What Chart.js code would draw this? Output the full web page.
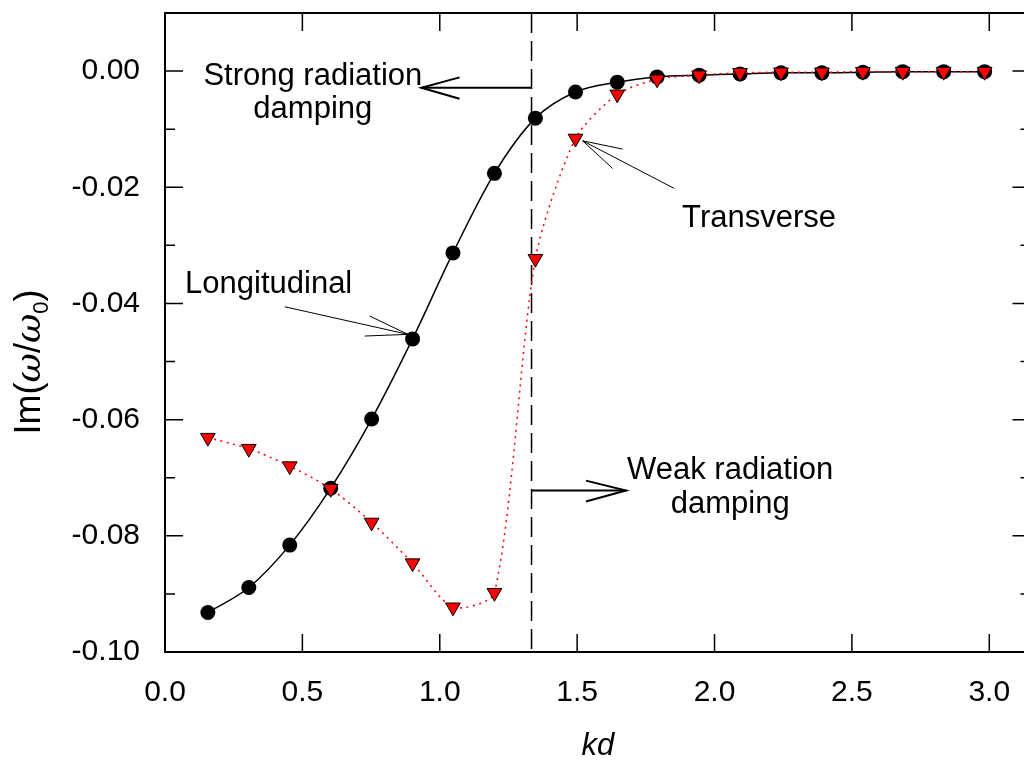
<!DOCTYPE html>
<html><head><meta charset="utf-8">
<script src="https://cdn.jsdelivr.net/npm/chart.js@4.4.1/dist/chart.umd.min.js"></script>
<style>html,body{margin:0;padding:0;background:#fff;overflow:hidden;width:1024px;height:761px}canvas{display:block}</style>
</head><body>
<canvas id="c" width="1040" height="761" style="width:1040px;height:761px"></canvas>
<script>
// ---- data ----
const kd = [0.156, 0.305, 0.454, 0.603, 0.752, 0.901, 1.048, 1.199, 1.348, 1.494,
            1.646, 1.791, 1.944, 2.093, 2.242, 2.391, 2.540, 2.685, 2.834, 2.983];
const longitudinal = [-0.0932, -0.0889, -0.0816, -0.0718, -0.0599, -0.0461, -0.0313, -0.0176, -0.0081, -0.0036,
                      -0.0019, -0.0010, -0.0007, -0.0005, -0.0003, -0.0003, -0.0002, -0.0001, -0.0001, -0.0001];
const transverse = [-0.0631, -0.0650, -0.0680, -0.0719, -0.0777, -0.0847, -0.0923, -0.0898, -0.0323, -0.0116,
                    -0.0040, -0.0014, -0.0007, -0.0003, -0.0002, -0.0002, -0.0001, -0.0001, -0.0001, -0.0001];
const xTicks = [0.0, 0.5, 1.0, 1.5, 2.0, 2.5, 3.0];
const yTicks = [-0.10, -0.08, -0.06, -0.04, -0.02, 0.00];
const yMinorTicks = [-0.09, -0.07, -0.05, -0.03, -0.01];
const boundaryKd = 1.334;

// annotations (data coordinates)
const noteTexts = [
  {text: 'Strong radiation', x: 0.538, y: -0.0024, align: 'center'},
  {text: 'damping', x: 0.538, y: -0.0081, align: 'center'},
  {text: 'Weak radiation', x: 2.057, y: -0.0703, align: 'center'},
  {text: 'damping', x: 2.057, y: -0.0760, align: 'center'},
  {text: 'Longitudinal', x: 0.073, y: -0.0382, align: 'left'},
  {text: 'Transverse', x: 1.882, y: -0.0268, align: 'left'}
];
const notePaths = [
  {w: 2, pts: [[1.334, -0.00287], [0.933, -0.00287]]},
  {w: 2, pts: [[1.072, -0.00108], [0.933, -0.00287], [1.072, -0.00477]]},
  {w: 2, pts: [[1.334, -0.0722], [1.678, -0.0722]]},
  {w: 2, pts: [[1.532, -0.0705], [1.678, -0.0722], [1.532, -0.0741]]},
  {w: 1, pts: [[0.436, -0.04057], [0.884, -0.04532]]},
  {w: 1, pts: [[0.745, -0.04217], [0.884, -0.04532], [0.727, -0.04561]]},
  {w: 1, pts: [[1.853, -0.02019], [1.520, -0.0120]]},
  {w: 1, pts: [[1.665, -0.01342], [1.520, -0.0120], [1.629, -0.01675]]}
];

const FONT = "'Liberation Sans', Arial, sans-serif";

const deco = {
  id: 'deco',
  beforeDatasetsDraw(chart) {
    const {ctx, chartArea: a, scales: {x}} = chart;
    const bx = x.getPixelForValue(boundaryKd);
    ctx.save();
    ctx.strokeStyle = '#000'; ctx.lineWidth = 1.5; ctx.setLineDash([20, 8]);
    ctx.beginPath(); ctx.moveTo(bx, a.top); ctx.lineTo(bx, a.bottom); ctx.stroke();
    ctx.restore();
  },
  afterDatasetsDraw(chart) {
    const {ctx, chartArea: a, scales: {x, y}} = chart;
    ctx.save();
    ctx.strokeStyle = '#000';
    // frame
    ctx.lineWidth = 2;
    ctx.strokeRect(a.left, a.top, a.right - a.left, a.bottom - a.top);
    // ticks
    ctx.lineWidth = 1.5;
    ctx.beginPath();
    xTicks.forEach(v => {
      const px = x.getPixelForValue(v);
      ctx.moveTo(px, a.bottom); ctx.lineTo(px, a.bottom - 18);
      ctx.moveTo(px, a.top); ctx.lineTo(px, a.top + 18);
    });
    yTicks.forEach(v => {
      const py = y.getPixelForValue(v);
      ctx.moveTo(a.left, py); ctx.lineTo(a.left + 18, py);
      ctx.moveTo(a.right, py); ctx.lineTo(a.right - 18, py);
    });
    yMinorTicks.forEach(v => {
      const py = y.getPixelForValue(v);
      ctx.moveTo(a.left, py); ctx.lineTo(a.left + 10, py);
      ctx.moveTo(a.right, py); ctx.lineTo(a.right - 10, py);
    });
    ctx.stroke();
    // annotation lines
    notePaths.forEach(p => {
      ctx.lineWidth = p.w;
      ctx.beginPath();
      p.pts.forEach((q, i) => {
        const px = x.getPixelForValue(q[0]), py = y.getPixelForValue(q[1]);
        if (i === 0) ctx.moveTo(px, py); else ctx.lineTo(px, py);
      });
      ctx.stroke();
    });
    // annotation texts
    ctx.fillStyle = '#000';
    ctx.font = '31px ' + FONT;
    ctx.textBaseline = 'alphabetic';
    noteTexts.forEach(t => {
      ctx.textAlign = t.align;
      ctx.fillText(t.text, x.getPixelForValue(t.x), y.getPixelForValue(t.y));
    });
    // x title
    ctx.font = 'italic 31px ' + FONT;
    ctx.textAlign = 'center';
    ctx.fillText('kd', (a.left + a.right) / 2, 755);
    // y title
    const size = 36;
    const omegaFont = "italic " + size + "px 'DejaVu Serif', serif";
    const segs = [
      {t: 'Im(', f: size + 'px ' + FONT, dy: 0},
      {t: 'ω', f: omegaFont, dy: 0},
      {t: '/', f: size + 'px ' + FONT, dy: 0},
      {t: 'ω', f: omegaFont, dy: 0},
      {t: '0', f: Math.round(size * 0.62) + 'px ' + FONT, dy: 8},
      {t: ')', f: size + 'px ' + FONT, dy: 0}
    ];
    let total = 0;
    segs.forEach(s => { ctx.font = s.f; s.w = ctx.measureText(s.t).width; total += s.w; });
    ctx.translate(40, 362);
    ctx.rotate(-Math.PI / 2);
    ctx.textAlign = 'left';
    let cx = -total / 2;
    segs.forEach(s => { ctx.font = s.f; ctx.fillText(s.t, cx, s.dy); cx += s.w; });
    ctx.restore();
  }
};

new Chart(document.getElementById('c'), {
  type: 'line',
  data: {
    datasets: [
      {
        label: 'Transverse',
        data: kd.map((v, i) => ({x: v, y: transverse[i]})),
        borderColor: '#ff0000', borderWidth: 1.5, borderDash: [2, 4.5],
        pointStyle: 'triangle', rotation: 180, pointRadius: 8.5,
        pointBackgroundColor: '#ff0000', pointBorderColor: '#000', pointBorderWidth: 1,
        tension: 0.25, fill: false
      },
      {
        label: 'Longitudinal',
        data: kd.map((v, i) => ({x: v, y: longitudinal[i]})),
        borderColor: '#000', borderWidth: 1.5,
        pointStyle: 'circle', pointRadius: 7.5,
        pointBackgroundColor: '#000', pointBorderColor: '#000', pointBorderWidth: 0,
        cubicInterpolationMode: 'monotone', fill: false
      }
    ]
  },
  options: {
    responsive: false, animation: false,
    layout: {padding: {left: 0, top: 13, right: 9, bottom: 0}},
    plugins: {legend: {display: false}, tooltip: {enabled: false}},
    scales: {
      x: {
        type: 'linear', min: 0, max: 3.15,
        grid: {display: false}, border: {display: false},
        afterBuildTicks: s => { s.ticks = xTicks.map(v => ({value: v})); },
        afterFit: s => { s.height = 109; s.paddingLeft = 0; s.paddingRight = 0; },
        ticks: {font: {family: FONT, size: 30}, color: '#000', padding: 15, maxRotation: 0, autoSkip: false,
                callback: v => Number(v).toFixed(1)}
      },
      y: {
        type: 'linear', min: -0.10, max: 0.01,
        grid: {display: false}, border: {display: false},
        afterBuildTicks: s => { s.ticks = yTicks.map(v => ({value: v})); },
        afterFit: s => { s.width = 165; s.paddingTop = 0; s.paddingBottom = 0; },
        ticks: {font: {family: FONT, size: 30}, color: '#000', padding: 17, autoSkip: false,
                callback: v => Number(v).toFixed(2)}
      }
    }
  },
  plugins: [deco]
});
</script>
</body></html>
